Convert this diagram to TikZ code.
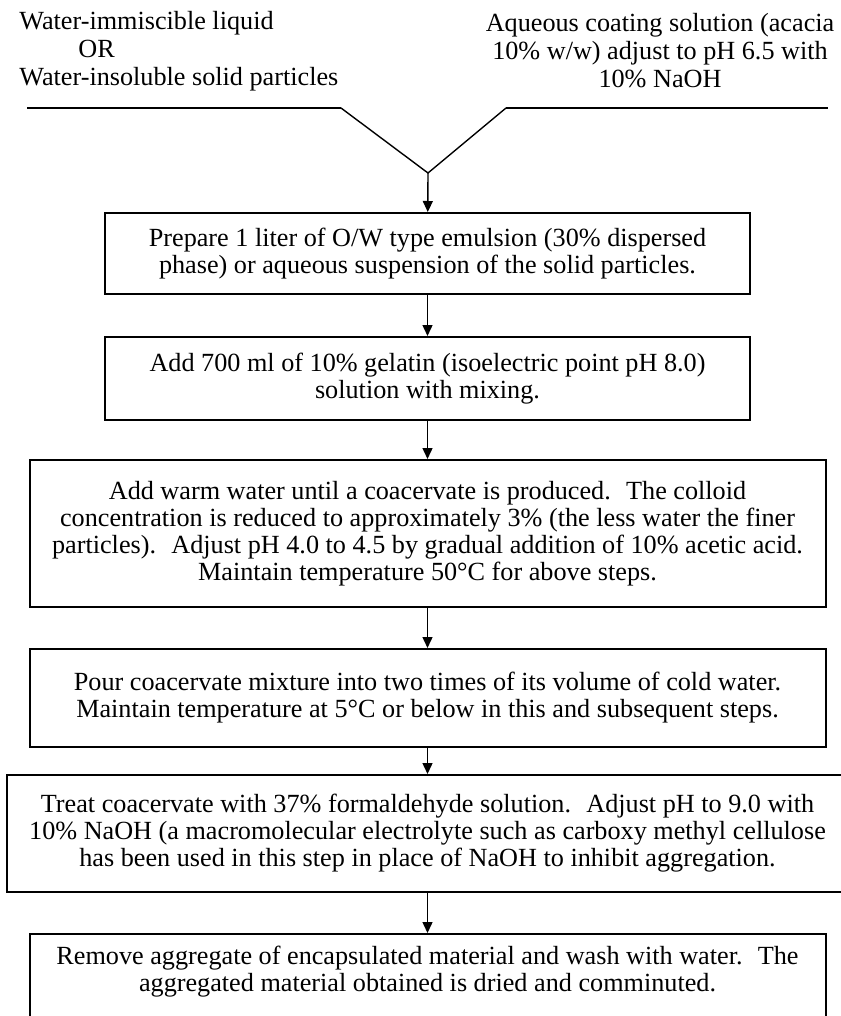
\documentclass[tikz,border=0pt]{standalone}
\usepackage{fontspec}
\setmainfont{Liberation Serif}
\usetikzlibrary{arrows.meta}

\tikzset{
	stepbox/.style={draw, line width=1pt, align=center, inner sep=0pt},
	flow/.style={-{Triangle[length=5.5pt,width=5pt]}, line width=0.7pt},
	feed/.style={line width=0.7pt},
	rim/.style={line width=1pt},
}

\begin{document}
\begin{tikzpicture}[x=0.5pt, y=-0.5pt, font=\fontsize{13.1}{13.5}\selectfont]
	\useasboundingbox (0,0) rectangle (840,1016);

	\node[align=left, anchor=west, inner sep=0pt, font=\fontsize{13.1}{14}\selectfont](oil) at (19,51){Water-immiscible liquid\\\hspace{29.5pt}OR\\Water-insoluble solid particles};
	\node[align=center, inner sep=0pt, font=\fontsize{13.1}{14}\selectfont](coat) at (660,51){Aqueous coating solution (acacia\\10\% w/w) adjust to pH 6.5 with\\10\% NaOH};

	\coordinate (lstart) at (27,108);
	\coordinate (lbend) at (341,108);
	\coordinate (rbend) at (506,108);
	\coordinate (rstart) at (828,108);
	\coordinate (apex) at (428,173);
	\draw[rim] (lstart) -- (lbend);
	\draw[rim] (rbend) -- (rstart);
	\draw[feed] (lbend) -- (apex) -- (rbend);

	\node[stepbox, minimum width=322.5pt, minimum height=40.5pt](prep) at (427.5,253.5){Prepare 1 liter of O/W type emulsion (30\% dispersed\\phase) or aqueous suspension of the solid particles.};
	\node[stepbox, minimum width=322.5pt, minimum height=41.5pt](gel) at (427.5,378.5){Add 700 ml of 10\% gelatin (isoelectric point pH 8.0)\\solution with mixing.};
	\node[stepbox, minimum width=398pt, minimum height=73.5pt](warm) at (427.5,533.5){Add warm water until a coacervate is produced.~ The colloid\\concentration is reduced to approximately 3\% (the less water the finer\\particles).~ Adjust pH 4.0 to 4.5 by gradual addition of 10\% acetic acid.\\Maintain temperature 50°C for above steps.};
	\node[stepbox, minimum width=398pt, minimum height=49pt](pour) at (427.5,698){Pour coacervate mixture into two times of its volume of cold water.\\Maintain temperature at 5°C or below in this and subsequent steps.};
	\node[stepbox, minimum width=420.5pt, minimum height=58.5pt](treat) at (427.5,833.5){Treat coacervate with 37\% formaldehyde solution.~ Adjust pH to 9.0 with\\10\% NaOH (a macromolecular electrolyte such as carboxy methyl cellulose\\has been used in this step in place of NaOH to inhibit aggregation.};
	\node[stepbox, minimum width=398pt, anchor=north, inner ysep=6pt, text depth=40pt](remove) at (427.5,933){Remove aggregate of encapsulated material and wash with water.~ The\\aggregated material obtained is dried and comminuted.};

	\draw[flow] (apex) -- (prep);
	\draw[flow] (prep) -- (gel);
	\draw[flow] (gel) -- (warm);
	\draw[flow] (warm) -- (pour);
	\draw[flow] (pour) -- (treat);
	\draw[flow] (treat) -- (remove);

\end{tikzpicture}
\end{document}
